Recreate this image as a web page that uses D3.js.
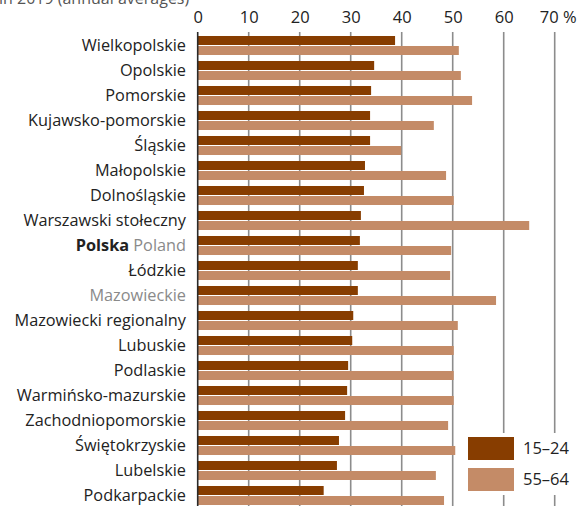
<!DOCTYPE html>
<html><head><meta charset="utf-8">
<script src="https://cdn.jsdelivr.net/npm/d3@7"></script>
<style>
html,body{margin:0;padding:0;background:#fff;}
svg{display:block;font-family:"Open Sans",sans-serif;}
</style></head>
<body><svg id="c" width="578" height="506"></svg>
<script>
const categories = ["Wielkopolskie","Opolskie","Pomorskie","Kujawsko-pomorskie","Śląskie","Małopolskie","Dolnośląskie","Warszawski stołeczny","Polska","Łódzkie","Mazowieckie","Mazowiecki regionalny","Lubuskie","Podlaskie","Warmińsko-mazurskie","Zachodniopomorskie","Świętokrzyskie","Lubelskie","Podkarpackie"];
const series = ["15–24","55–64"];
const values15_24 = [38.7,34.6,34.0,33.8,33.8,32.8,32.6,32.0,31.8,31.4,31.4,30.5,30.3,29.5,29.3,28.9,27.7,27.3,24.7];
const values55_64 = [51.2,51.6,53.8,46.3,39.9,48.7,50.2,65.0,49.7,49.5,58.5,51.0,50.2,50.2,50.2,49.1,50.5,46.7,48.3];
const tickValues = [0,10,20,30,40,50,60,70];
const tickLabels = ["0","10","20","30","40","50","60","70 %"];
const subtitle = "in 2019 (annual averages)";
const colors = ["#873d00","#c48b67"];

const svg = d3.select("#c");
const x = d3.scaleLinear().domain([0,70]).range([197.7,554.7]);
const y = d3.scaleBand().domain(categories).range([33,508]).padding(0);
const y1 = d3.scaleBand().domain(series).range([3,22]).paddingInner(0.1);

svg.append("text").attr("x",-1).attr("y",4).attr("fill","#555").attr("font-size",16).text(subtitle);

// grid
const grid = svg.append("g");
grid.selectAll("line").data(tickValues.slice(1)).join("line")
  .attr("x1",d=>x(d)).attr("x2",d=>x(d)).attr("y1",32).attr("y2",506)
  .attr("stroke","#8c8c8c").attr("stroke-width",1.6);

// top axis labels
const axis = d3.axisTop(x).tickValues(tickValues).tickSize(0).tickPadding(0)
  .tickFormat((d,i)=>tickLabels[i]);
const ag = svg.append("g").attr("transform","translate(0,23)").call(axis);
ag.select(".domain").remove();
ag.selectAll("text").attr("font-size",16.5).attr("fill","#222").attr("font-family","'Open Sans',sans-serif").attr("dy",0);
ag.selectAll(".tick").filter((d,i)=>i===tickValues.length-1).select("text").attr("dx",3);

const data = categories.map((c,i)=>({c, v:[values15_24[i],values55_64[i]]}));
const groups = svg.append("g").selectAll("g").data(data).join("g")
  .attr("transform",d=>`translate(0,${y(d.c)})`);
groups.selectAll("rect").data(d=>d.v.map((v,j)=>({s:series[j],v,j}))).join("rect")
  .attr("x",x(0)).attr("y",d=>y1(d.s)).attr("height",y1.bandwidth())
  .attr("width",d=>x(d.v)-x(0)).attr("fill",d=>colors[d.j]);

// zero line
svg.append("line").attr("x1",x(0)).attr("x2",x(0)).attr("y1",32).attr("y2",506)
  .attr("stroke","#2a2a2a").attr("stroke-width",1.6);

// category labels
const lab = svg.append("g").selectAll("text").data(categories).join("text")
  .attr("x",186).attr("y",d=>y(d)+y.bandwidth()/2).attr("dy","0.36em")
  .attr("text-anchor","end").attr("font-size",16.3).attr("fill",d=>d==="Mazowieckie"?"#8a8a8a":"#222");
lab.each(function(d){
  const t=d3.select(this);
  if(d==="Polska"){
    t.append("tspan").attr("font-weight","bold").text("Polska");
    t.append("tspan").attr("fill","#8a8a8a").text(" Poland");
  } else t.text(d);
});

// legend
const lg = svg.append("g");
lg.append("rect").attr("x",460).attr("y",433).attr("width",118).attr("height",62).attr("fill","#fff");
series.forEach((s,i)=>{
  lg.append("rect").attr("x",468).attr("y",437+i*31).attr("width",46).attr("height",23).attr("fill",colors[i]);
  lg.append("text").attr("x",523).attr("y",448.5+i*31).attr("dy","0.36em").attr("font-size",16.5).attr("fill","#222").text(s);
});
</script></body></html>
